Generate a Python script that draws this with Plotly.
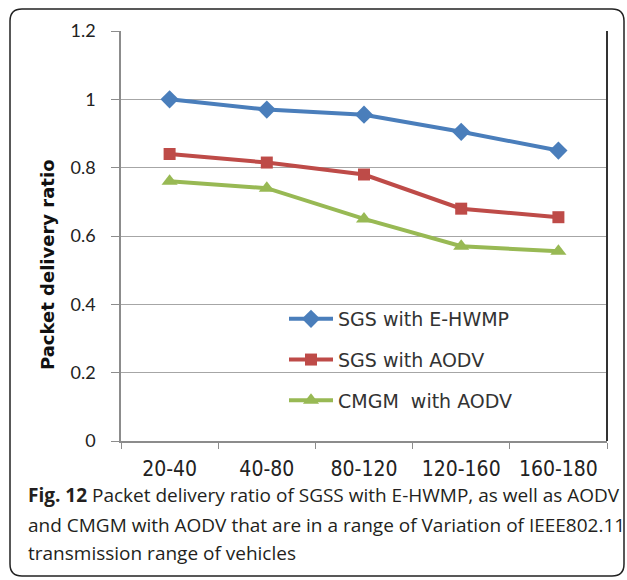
import plotly.graph_objects as go

categories = ["20-40", "40-80", "80-120", "120-160", "160-180"]
sgs_ehwmp = [1.0, 0.97, 0.955, 0.905, 0.85]
sgs_aodv = [0.84, 0.815, 0.78, 0.68, 0.655]
cmgm_aodv = [0.76, 0.74, 0.65, 0.57, 0.555]
names = ["SGS with E-HWMP", "SGS with AODV", "CMGM  with AODV"]
y_ticks = [0, 0.2, 0.4, 0.6, 0.8, 1.0, 1.2]
y_labels = ["0", "0.2", "0.4", "0.6", "0.8", "1", "1.2"]
y_title = "Packet delivery ratio"
caption = [
    "<b>Fig. 12</b> Packet delivery ratio of SGSS with E-HWMP, as well as AODV",
    "and CMGM with AODV that are in a range of Variation of IEEE802.11",
    "transmission range of vehicles",
]

W, H = 627, 580
L, R, T, B = 121, 20, 31, 139
PW, PH = W - L - R, H - T - B


def px(x):
    return (x - L) / PW


def py(y):
    return (H - B - y) / PH


fig = go.Figure()
styles = [
    ("#4A7EBB", "diamond", 14),
    ("#BE4B48", "square", 12),
    ("#98B954", "triangle-up", 14),
]
for vals, name, (col, sym, sz) in zip([sgs_ehwmp, sgs_aodv, cmgm_aodv], names, styles):
    fig.add_trace(go.Scatter(
        x=categories, y=vals, name=name, mode="lines+markers",
        line=dict(color=col, width=4),
        marker=dict(symbol=sym, size=sz, color=col),
        legendgroup=name,
    ))

# rounded frame
x0, x1 = px(10), px(624)
y0, y1 = py(9), py(576)
rx, ry = 12 / PW, 12 / PH
path = (f"M{x0 + rx},{y0} L{x1 - rx},{y0} Q{x1},{y0} {x1},{y0 - ry} "
        f"L{x1},{y1 + ry} Q{x1},{y1} {x1 - rx},{y1} "
        f"L{x0 + rx},{y1} Q{x0},{y1} {x0},{y1 + ry} "
        f"L{x0},{y0 - ry} Q{x0},{y0} {x0 + rx},{y0} Z")
fig.add_shape(type="path", path=path, xref="paper", yref="paper",
              line=dict(color="#222222", width=1.5), layer="below")
fig.add_shape(type="line", xref="paper", yref="paper", x0=1, x1=1, y0=0, y1=1,
              line=dict(color="#333333", width=2))

# y-axis title (placed like the original, slightly below centre)
fig.add_annotation(text=f"<b>{y_title}</b>", xref="paper", yref="paper",
                   x=px(47), y=py(265), xanchor="center", yanchor="middle",
                   textangle=-90, showarrow=False,
                   font=dict(family="DejaVu Sans", size=18, color="#111111"))

caption_y = [495, 525, 553]
for txt, yy in zip(caption, caption_y):
    fig.add_annotation(text=txt, xref="paper", yref="paper", x=px(26), y=py(yy),
                       xanchor="left", yanchor="middle", showarrow=False,
                       font=dict(family="Open Sans", size=19, color="#231F20"))

fig.update_layout(
    width=W, height=H,
    margin=dict(l=L, r=R, t=T, b=B),
    paper_bgcolor="white", plot_bgcolor="white",
    showlegend=True,
    legend=dict(x=px(284), y=py(300), xanchor="left", yanchor="top",
                bgcolor="rgba(0,0,0,0)", tracegroupgap=13, itemwidth=44,
                font=dict(family="DejaVu Sans", size=19, color="#333333")),
    xaxis=dict(type="category", range=[-0.5, 4.5], tickson="boundaries",
               ticks="outside", ticklen=6,
               tickcolor="#8C8C8C", showline=True, linecolor="#8C8C8C", linewidth=1.5,
               showgrid=False, ticklabelstandoff=8,
               tickfont=dict(family="Liberation Sans Narrow, DejaVu Sans Condensed, Roboto Condensed, Arial Narrow",
                             size=21, color="#222222")),
    yaxis=dict(range=[0, 1.2], tickvals=y_ticks, ticktext=y_labels, ticks="outside",
               ticklen=8, tickcolor="#8C8C8C", showline=True, linecolor="#8C8C8C",
               linewidth=1.5, gridcolor="#A6A6A6", gridwidth=1.2, zeroline=False,
               ticklabelstandoff=12,
               tickfont=dict(family="Lato", size=18, color="#222222")),
)

fig.write_html("out.html", config={"displayModeBar": False},
               post_script="document.body.style.margin='0';")
